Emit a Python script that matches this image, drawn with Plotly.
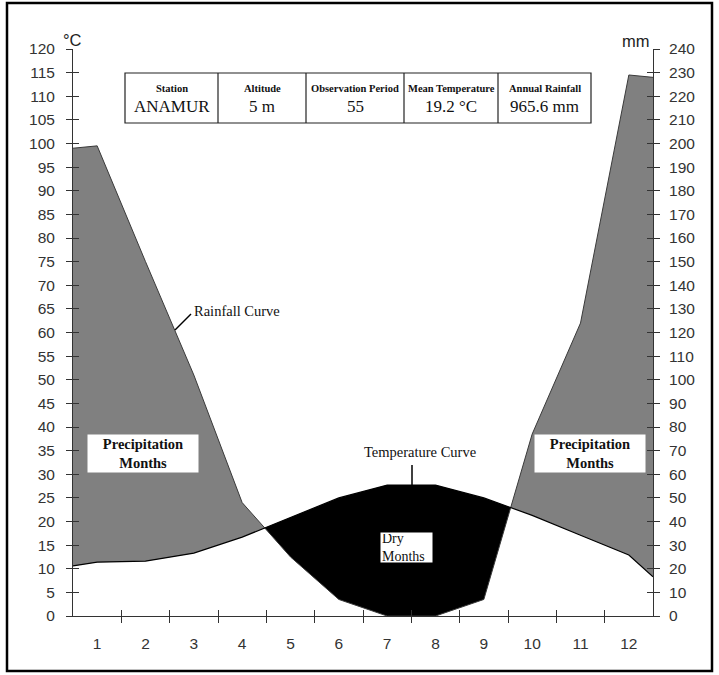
import plotly.graph_objects as go
import numpy as np

# ---------------- data ----------------
months = list(range(1, 13))
month_labels = [str(m) for m in months]
temp_c = [11.4, 11.6, 13.3, 16.7, 20.8, 25.0, 27.7, 27.7, 25.0, 21.3, 17.1, 12.9]
rain_mm = [199, 150, 102, 48, 25, 7, 0, 0, 7, 77, 124, 229]
# where the curves meet the left / right frame
edge_x = [0.5, 12.5]
edge_temp = [10.6, 8.3]
edge_rain = [198, 228]

temp_ticks = list(range(0, 121, 5))
rain_ticks = list(range(0, 241, 10))

table_head = ["Station", "Altitude", "Observation Period", "Mean Temperature", "Annual Rainfall"]
table_vals = ["ANAMUR", "5 m", "55", "19.2 \u00b0C", "965.6 mm"]

# ---------------- derived curves ----------------
xs = np.array([edge_x[0]] + months + [edge_x[1]], dtype=float)
T = np.array([edge_temp[0]] + temp_c + [edge_temp[1]], dtype=float)
P = np.array([edge_rain[0]] + rain_mm + [edge_rain[1]], dtype=float) / 2.0  # Gaussen P = 2T

gx, gT, gP = [xs[0]], [T[0]], [P[0]]
for i in range(len(xs) - 1):
    d0 = P[i] - T[i]
    d1 = P[i + 1] - T[i + 1]
    if d0 * d1 < 0:
        t = d0 / (d0 - d1)
        xc = xs[i] + t * (xs[i + 1] - xs[i])
        yc = T[i] + t * (T[i + 1] - T[i])
        gx.append(xc); gT.append(yc); gP.append(yc)
    gx.append(xs[i + 1]); gT.append(T[i + 1]); gP.append(P[i + 1])
gx = np.array(gx); gT = np.array(gT); gP = np.array(gP)
lo = np.minimum(gT, gP)

# ---------------- geometry helpers ----------------
W, H = 719, 675
L, R, TOP, B = 73, 66, 49, 59
PW, PH = W - L - R, H - TOP - B


def dx(px):
    return 0.5 + (px - L) / PW * 12


def dy(py):
    return (H - B - py) / PH * 120


def pxp(px):
    return (px - L) / PW


def pyp(py):
    return (H - B - py) / PH


fig = go.Figure()
GRAY = "#808080"
fig.add_trace(go.Scatter(x=gx, y=lo, mode="lines", line=dict(width=0), hoverinfo="skip", showlegend=False))
fig.add_trace(go.Scatter(x=gx, y=gP, mode="lines", line=dict(width=0), fill="tonexty",
                         fillcolor=GRAY, hoverinfo="skip", showlegend=False))
fig.add_trace(go.Scatter(x=gx, y=lo, mode="lines", line=dict(width=0), hoverinfo="skip", showlegend=False))
fig.add_trace(go.Scatter(x=gx, y=gT, mode="lines", line=dict(width=0), fill="tonexty",
                         fillcolor="#000000", hoverinfo="skip", showlegend=False))
fig.add_trace(go.Scatter(x=gx, y=gP, mode="lines", line=dict(width=1, color="#3a3a3a"),
                         hoverinfo="skip", showlegend=False))
fig.add_trace(go.Scatter(x=gx, y=gT, mode="lines", line=dict(width=1.2, color="#000000"),
                         hoverinfo="skip", showlegend=False))
# dummy traces so overlay axes render
for xa, ya in [("x2", "y"), ("x3", "y"), ("x", "y3"), ("x", "y2"), ("x", "y4")]:
    fig.add_trace(go.Scatter(x=[None], y=[None], xaxis=xa, yaxis=ya, showlegend=False, hoverinfo="skip"))

AX = "#333333"
TF = dict(family="Liberation Sans, Arial, sans-serif", size=15.5, color="#333333")
bounds = [m + 0.5 for m in months[:-1]]

fig.update_layout(
    width=W, height=H, margin=dict(l=L, r=R, t=TOP, b=B),
    paper_bgcolor="white", plot_bgcolor="white", showlegend=False,
    xaxis=dict(range=[0.5, 12.5], tickvals=months, ticktext=month_labels, ticks="",
               showline=True, linecolor=AX, linewidth=1, showgrid=False, zeroline=False,
               tickfont=TF, ticklabelstandoff=13),
    xaxis2=dict(range=[0.5, 12.5], overlaying="x", anchor="y", side="bottom", tickvals=bounds,
                ticks="outside", ticklen=6, tickcolor=AX, showticklabels=False,
                showline=False, showgrid=False, zeroline=False),
    xaxis3=dict(range=[0.5, 12.5], overlaying="x", anchor="y", side="bottom", tickvals=bounds,
                ticks="inside", ticklen=6, tickcolor=AX, showticklabels=False,
                showline=False, showgrid=False, zeroline=False),
    yaxis=dict(range=[0, 120], tickvals=temp_ticks, ticks="outside", ticklen=6, tickcolor=AX,
               showline=True, linecolor=AX, linewidth=1, showgrid=False, zeroline=False,
               tickfont=TF, ticklabelstandoff=8),
    yaxis3=dict(range=[0, 120], overlaying="y", anchor="x", side="left", tickvals=temp_ticks,
                ticks="inside", ticklen=6, tickcolor=AX, showticklabels=False,
                showline=False, showgrid=False, zeroline=False),
    yaxis2=dict(range=[0, 240], overlaying="y", anchor="x", side="right", tickvals=rain_ticks,
                ticks="outside", ticklen=6, tickcolor=AX, showline=True, linecolor=AX, linewidth=1,
                showgrid=False, zeroline=False, tickfont=TF, ticklabelstandoff=6),
    yaxis4=dict(range=[0, 240], overlaying="y", anchor="x", side="right", tickvals=rain_ticks,
                ticks="inside", ticklen=6, tickcolor=AX, showticklabels=False,
                showline=False, showgrid=False, zeroline=False),
)

shapes = []
annos = []
SERIF = "Liberation Serif, Times New Roman, serif"

# outer frame
shapes.append(dict(type="rect", xref="paper", yref="paper", x0=pxp(7), x1=pxp(712), y0=pyp(671), y1=pyp(3),
                   line=dict(color="black", width=2.5), layer="above"))

# unit labels
annos.append(dict(xref="paper", yref="paper", x=pxp(61), y=pyp(29), text="\u00b0C", showarrow=False,
                  font=dict(family="Liberation Sans, Arial, sans-serif", size=16.5, color="#222")))
annos.append(dict(xref="paper", yref="paper", x=pxp(652), y=pyp(30), text="mm", showarrow=False,
                  font=dict(family="Liberation Sans, Arial, sans-serif", size=16.5, color="#222")))

# station table
cols_px = [125, 218, 306, 404, 498, 591]
t_top, t_bot = 73, 123
shapes.append(dict(type="rect", xref="x", yref="y", x0=dx(cols_px[0]), x1=dx(cols_px[-1]),
                   y0=dy(t_bot), y1=dy(t_top), line=dict(color="#222", width=1.2), fillcolor="white",
                   layer="above"))
for c in cols_px[1:-1]:
    shapes.append(dict(type="line", xref="x", yref="y", x0=dx(c), x1=dx(c), y0=dy(t_bot), y1=dy(t_top),
                       line=dict(color="#222", width=1.2), layer="above"))
for i in range(5):
    cx = dx((cols_px[i] + cols_px[i + 1]) / 2)
    annos.append(dict(xref="x", yref="y", x=cx, y=dy(88), text="<b>%s</b>" % table_head[i], showarrow=False,
                      font=dict(family=SERIF, size=10.5, color="#111")))
    annos.append(dict(xref="x", yref="y", x=cx, y=dy(106), text=table_vals[i], showarrow=False,
                      font=dict(family=SERIF, size=17, color="#111")))

# labels
annos.append(dict(xref="x", yref="y", x=dx(192), y=dy(311), xanchor="left", text="Rainfall Curve",
                  showarrow=False, font=dict(family=SERIF, size=14.5, color="#111")))
shapes.append(dict(type="line", xref="x", yref="y", x0=dx(175), y0=dy(330), x1=dx(191), y1=dy(314),
                   line=dict(color="black", width=1.5)))
annos.append(dict(xref="x", yref="y", x=dx(420), y=dy(452), text="Temperature Curve",
                  showarrow=False, font=dict(family=SERIF, size=14.5, color="#111")))
shapes.append(dict(type="line", xref="x", yref="y", x0=dx(412), y0=dy(465), x1=dx(412), y1=dy(485),
                   line=dict(color="black", width=1.5)))
for cxp in [143, 590]:
    annos.append(dict(xref="x", yref="y", x=dx(cxp), y=dy(453), text="<b>Precipitation<br>Months</b>",
                      showarrow=False, bgcolor="white", width=106, height=33, borderpad=2,
                      font=dict(family=SERIF, size=14.5, color="#111")))
annos.append(dict(xref="x", yref="y", x=dx(406), y=dy(547), text="Dry<br>Months", align="left",
                  showarrow=False, bgcolor="white", width=49, height=27, borderpad=1,
                  font=dict(family=SERIF, size=14, color="#111")))

fig.update_layout(shapes=shapes, annotations=annos)
fig.write_html("out.html", config={"displayModeBar": False},
               post_script="document.body.style.margin='0';document.body.style.overflow='hidden';")
